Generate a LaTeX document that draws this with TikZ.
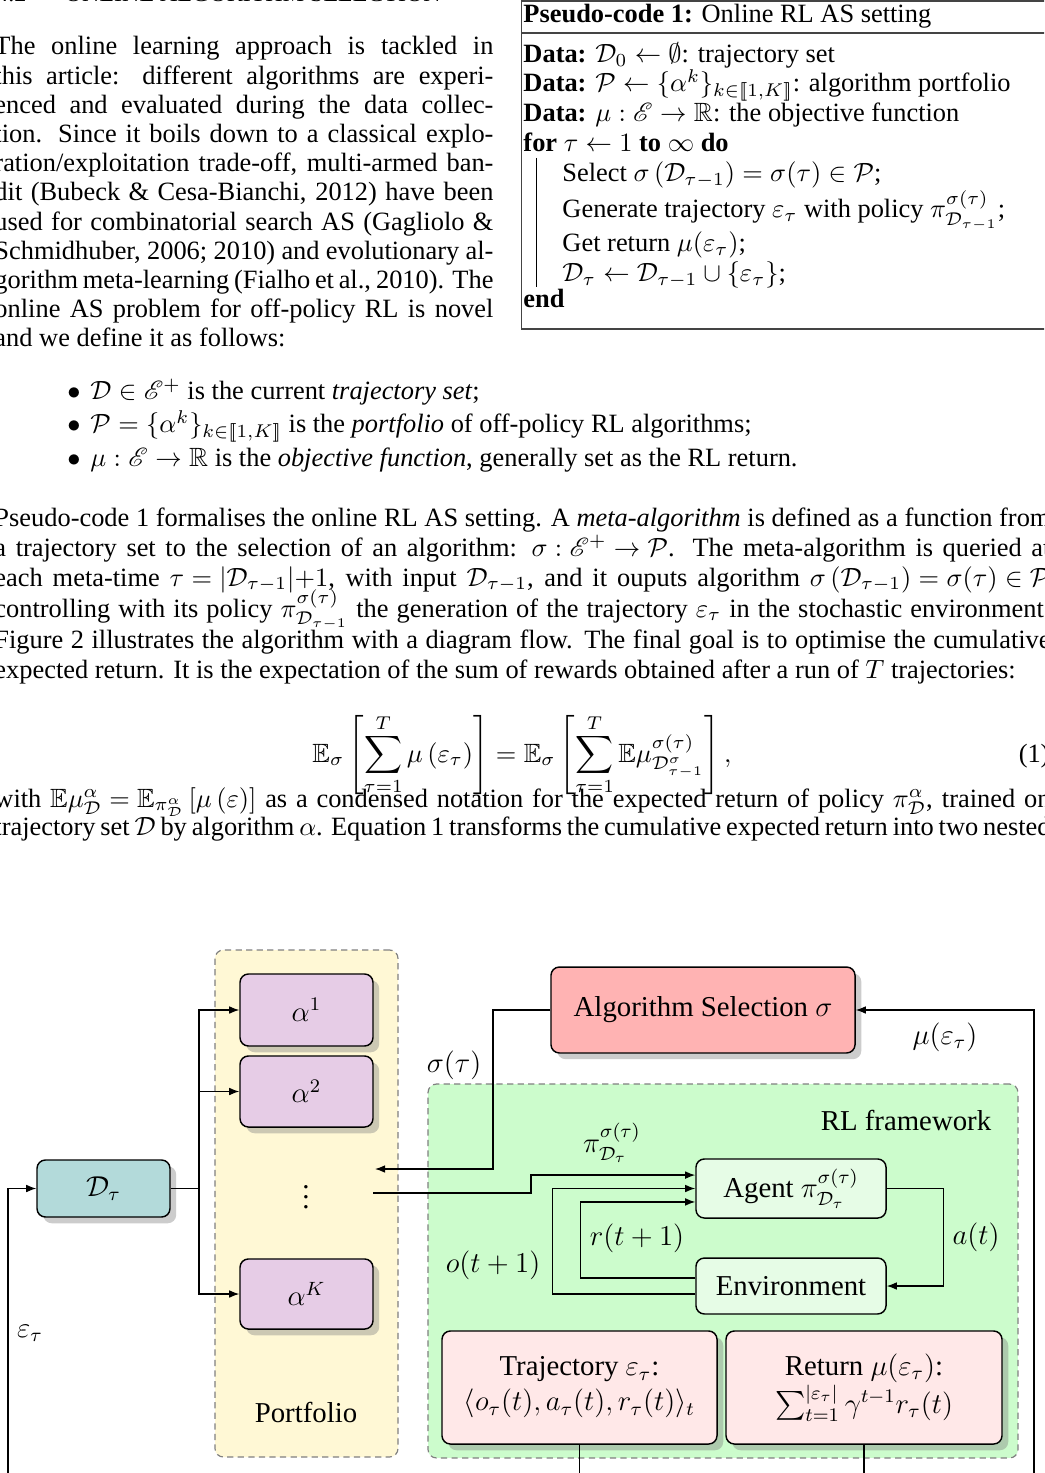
\RequirePackage{fix-cm}
\documentclass[tikz,border=0pt]{standalone}
\usepackage[no-math]{fontspec}
\setmainfont{Liberation Serif}
\usepackage{amsmath,amssymb}
\usepackage{mathrsfs}
\usetikzlibrary{arrows.meta,shadows,calc}

\definecolor{portfill}{HTML}{FFF8D5}
\definecolor{rlfill}{HTML}{CCFCCC}
\definecolor{algfill}{HTML}{E6CCE6}
\definecolor{dfill}{HTML}{B3DADA}
\definecolor{asfill}{HTML}{FFB3B3}
\definecolor{agfill}{HTML}{E6FCE6}
\definecolor{trfill}{HTML}{FFE8E8}
\definecolor{pcgray}{HTML}{444444}

\newcommand\bodyfont{\fontsize{11}{12.2}\selectfont\thickmuskip=5mu\medmuskip=4mu}
\newcommand\dgfont{\fontsize{12}{14.6}\selectfont}
\newcommand\JC[1]{\makebox[207.9pt][s]{#1}}
\newcommand\JF[1]{\makebox[440pt][s]{#1}}
\newcommand\lbrk{[\![}
\newcommand\rbrk{]\!]}

\tikzset{
  bx/.style={draw=black, line width=0.6pt, rounded corners=3.5pt, align=center, inner sep=0pt, font=\dgfont},
  shd/.style={drop shadow={shadow xshift=2.6pt, shadow yshift=-2.6pt, opacity=0.4}},
  conn/.style={line width=0.5pt},
  arr/.style={conn, -{Latex[length=4.2pt,width=3.2pt]}},
  lbl/.style={font=\dgfont, inner sep=0pt},
  txt/.style={anchor=base west, inner sep=0pt, font=\bodyfont},
  grp/.style={draw=gray, dash pattern=on 2.6pt off 1.8pt, rounded corners=3.5pt, line width=0.5pt, inner sep=0pt},
  pcline/.style={draw=pcgray, line width=0.6pt}
}

\begin{document}
\begin{tikzpicture}[x=0.41667pt, y=-0.41667pt]
\useasboundingbox (0,0) rectangle (1044,1473);
\clip (0,0) rectangle (1044,1473);
\fill[white] (0,0) rectangle (1044,1473);

% heading (cut off at top)
\node[txt, font=\fontsize{10}{12}\selectfont] (head) at (-4,1.5) {4.2\hspace{1.6em}ONLINE ALGORITHM SELECTION};

% first paragraph (narrow column)
\node[txt] (p1a) at (-6,55) {\JC{The online learning approach is tackled in}};
\node[txt] (p1b) at (-6,84.2) {\JC{this article: different algorithms are experi-}};
\node[txt] (p1c) at (-6,113.4) {\JC{enced and evaluated during the data collec-}};
\node[txt] (p1d) at (-6,142.6) {\JC{tion. Since it boils down to a classical explo-}};
\node[txt] (p1e) at (-6,171.8) {\JC{ration/exploitation trade-off, multi-armed ban-}};
\node[txt] (p1f) at (-6,201) {\JC{dit (Bubeck \& Cesa-Bianchi, 2012) have been}};
\node[txt] (p1g) at (-6,230.2) {\JC{used for combinatorial search AS (Gagliolo \&}};
\node[txt] (p1h) at (-6,259.4) {\JC{Schmidhuber, 2006; 2010) and evolutionary al-}};
\node[txt] (p1i) at (-6,288.6) {\JC{gorithm meta-learning (Fialho et al., 2010). The}};
\node[txt] (p1j) at (-6,317.8) {\JC{online AS problem for off-policy RL is novel}};
\node[txt] (p1k) at (-6,347) {and we define it as follows:};

% pseudo-code box
\draw[pcline] (521.5,-3) -- (521.5,329) -- (1052,329);
\draw[pcline] (521.5,1) -- (1052,1);
\draw[pcline] (521.5,33) -- (1052,33);
\draw[line width=0.4pt] (536,158) -- (536,287);
\node[txt] (pch) at (523,23) {\textbf{Pseudo-code 1:} Online RL AS setting};
\node[txt] (pc1) at (523,63) {\textbf{Data:} $\mathcal{D}_0 \leftarrow \emptyset$: trajectory set};
\node[txt] (pc2) at (523,92) {\textbf{Data:} $\mathcal{P} \leftarrow \{\alpha^k\}_{k\in\lbrk 1,K\rbrk}$: algorithm portfolio};
\node[txt] (pc3) at (523,122) {\textbf{Data:} $\mu : \mathscr{E} \rightarrow \mathbb{R}$: the objective function};
\node[txt] (pc4) at (523,152) {\textbf{for} $\tau \leftarrow 1$ \textbf{to} $\infty$ \textbf{do}};
\node[txt] (pc5) at (562,182) {Select $\sigma\left(\mathcal{D}_{\tau-1}\right) = \sigma(\tau) \in \mathcal{P}$;};
\node[txt] (pc6) at (562,218) {Generate trajectory $\varepsilon_\tau$ with policy $\pi^{\sigma(\tau)}_{\mathcal{D}_{\tau-1}}$;};
\node[txt] (pc7) at (562,252) {Get return $\mu(\varepsilon_\tau)$;};
\node[txt] (pc8) at (562,282) {$\mathcal{D}_\tau \leftarrow \mathcal{D}_{\tau-1} \cup \{\varepsilon_\tau\}$;};
\node[txt] (pc9) at (523,308) {\textbf{end}};

% bullets
\node[txt] (b1d) at (67,400) {$\bullet$};
\node[txt] (b1) at (90,400) {$\mathcal{D} \in \mathscr{E}^+$ is the current \emph{trajectory set};};
\node[txt] (b2d) at (67,433) {$\bullet$};
\node[txt] (b2) at (90,433) {$\mathcal{P} = \{\alpha^k\}_{k\in\lbrk 1,K\rbrk}$ is the \emph{portfolio} of off-policy RL algorithms;};
\node[txt] (b3d) at (67,467) {$\bullet$};
\node[txt] (b3) at (90,467) {$\mu : \mathscr{E} \rightarrow \mathbb{R}$ is the \emph{objective function}, generally set as the RL return.};

% second paragraph (full width)
\node[txt] (p2a) at (-6,527) {\JF{Pseudo-code 1 formalises the online RL AS setting. A \emph{meta-algorithm} is defined as a function from}};
\node[txt] (p2b) at (-6,556) {\JF{a trajectory set to the selection of an algorithm: $\sigma : \mathscr{E}^+ \rightarrow \mathcal{P}$. The meta-algorithm is queried at}};
\node[txt] (p2c) at (-6,586) {\JF{each meta-time $\tau = |\mathcal{D}_{\tau-1}|{+}1$, with input $\mathcal{D}_{\tau-1}$, and it ouputs algorithm $\sigma\left(\mathcal{D}_{\tau-1}\right) = \sigma(\tau) \in \mathcal{P}$}};
\node[txt] (p2d) at (-6,617) {\JF{controlling with its policy $\pi^{\sigma(\tau)}_{\mathcal{D}_{\tau-1}}$ the generation of the trajectory $\varepsilon_\tau$ in the stochastic environment.}};
\node[txt] (p2e) at (-6,648) {\JF{Figure 2 illustrates the algorithm with a diagram flow. The final goal is to optimise the cumulative}};
\node[txt] (p2f) at (-6,678) {expected return. It is the expectation of the sum of rewards obtained after a run of $T$ trajectories:};

% equation
\node[inner sep=0pt, anchor=base, font=\bodyfont] (eq) at (522,762) {$\displaystyle \mathbb{E}_\sigma\left[\sum_{\tau=1}^{T} \mu\left(\varepsilon_\tau\right)\right] = \mathbb{E}_\sigma\left[\sum_{\tau=1}^{T} \mathbb{E}\mu^{\sigma(\tau)}_{\mathcal{D}^\sigma_{\tau-1}}\right],$};
\node[inner sep=0pt, anchor=base east, font=\bodyfont] (eqn) at (1050,762) {(1)};

% third paragraph
\node[txt] (p3a) at (-6,807) {\JF{with $\mathbb{E}\mu^\alpha_\mathcal{D} = \mathbb{E}_{\pi^\alpha_\mathcal{D}}\left[\mu\left(\varepsilon\right)\right]$ as a condensed notation for the expected return of policy $\pi^\alpha_\mathcal{D}$, trained on}};
\node[txt] (p3b) at (-6,835) {\JF{trajectory set $\mathcal{D}$ by algorithm $\alpha$. Equation 1 transforms the cumulative expected return into two nested}};

% ---------------- diagram ----------------
\node[grp, fill=portfill, minimum width=76.25pt, minimum height=211.25pt] (port) at (306.5,1203.5) {};
\node[grp, fill=rlfill, minimum width=245.8pt, minimum height=155.8pt] (rlf) at (723,1271) {};

\node[bx, shd, fill=algfill, minimum width=55.4pt, minimum height=30pt] (a1) at (306.5,1010) {$\alpha^1$};
\node[bx, shd, fill=algfill, minimum width=55.4pt, minimum height=29.6pt] (a2) at (306.5,1091.5) {$\alpha^2$};
\node[lbl] (dots) at (306,1190) {$\vdots$};
\node[bx, shd, fill=algfill, minimum width=55.4pt, minimum height=29.2pt] (aK) at (306.5,1294) {$\alpha^K$};
\node[bx, shd, fill=dfill, minimum width=55.4pt, minimum height=23.75pt] (D) at (103.5,1188.5) {$\mathcal{D}_\tau$};
\node[bx, shd, fill=asfill, minimum width=126.7pt, minimum height=35.8pt] (AS) at (703,1010) {Algorithm Selection $\sigma$};
\node[bx, fill=agfill, minimum width=79.2pt, minimum height=24.6pt] (Ag) at (791,1188.5) {Agent $\pi^{\sigma(\tau)}_{\mathcal{D}_\tau}$};
\node[bx, fill=agfill, minimum width=79.2pt, minimum height=23.3pt] (En) at (791,1286) {Environment};
\node[bx, shd, fill=trfill, minimum width=114.6pt, minimum height=47.1pt] (Tr) at (579.5,1387.5) {Trajectory $\varepsilon_\tau$:\\ $\langle o_\tau(t), a_\tau(t), r_\tau(t)\rangle_t$};
\node[bx, shd, fill=trfill, minimum width=115pt, minimum height=47.1pt] (Re) at (864,1387.5) {Return $\mu(\varepsilon_\tau)$:\\ $\sum_{t=1}^{|\varepsilon_\tau|}\gamma^{t-1}r_\tau(t)$};

% labels
\node[lbl] (lsig) at (454,1065) {$\sigma(\tau)$};
\node[lbl] (lmu) at (945,1037) {$\mu(\varepsilon_\tau)$};
\node[lbl] (lrl) at (906,1120) {RL framework};
\node[lbl] (lpi) at (612,1143) {$\pi^{\sigma(\tau)}_{\mathcal{D}_\tau}$};
\node[lbl] (lr) at (637,1238) {$r(t+1)$};
\node[lbl] (lo) at (493,1265) {$o(t+1)$};
\node[lbl] (la) at (976,1237) {$a(t)$};
\node[lbl] (leps) at (30,1333) {$\varepsilon_\tau$};
\node[lbl] (lport) at (306,1412) {Portfolio};

% connectors
\coordinate (split) at (199,1188.5);
\draw[conn] (D.east) -- (split);
\draw[arr] (split) |- (a1.west);
\draw[arr] (split) |- (a2.west);
\draw[arr] (split) |- (aK.west);

\coordinate (selturn) at (493,1169);
\coordinate (selend) at (375,1169);
\draw[arr] (AS.west) -| (selturn) -- (selend);

\coordinate (pistart) at (373,1193);
\coordinate (piturn) at (531,1193);
\draw[arr] (pistart) -- (piturn) |- ([yshift=5.6pt]Ag.west);

\draw[arr] ([yshift=-3.3pt]En.west) -- ++(-143,0) |- (Ag.west);
\draw[arr] ([yshift=3.3pt]En.west) -- ++(-115,0) |- ([yshift=-5.6pt]Ag.west);
\draw[arr] (Ag.east) -- ++(57,0) |- (En.east);

\coordinate (trb) at (579.5,1480);
\coordinate (reb) at (864,1480);
\draw[conn] (Tr.south) -- (trb);
\draw[conn] (Re.south) -- (reb);
\coordinate (rbot) at (1034,1480);
\draw[arr] (rbot) |- (AS.east);
\coordinate (lbot) at (8,1480);
\draw[arr] (lbot) |- (D.west);
\end{tikzpicture}
\end{document}
